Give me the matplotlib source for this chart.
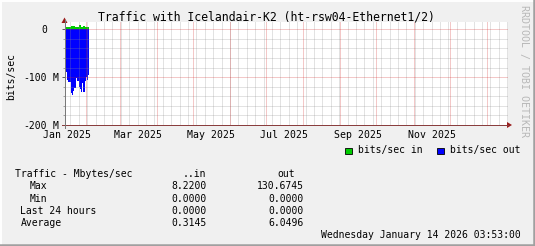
import matplotlib
matplotlib.use("Agg")
import matplotlib.pyplot as plt
import matplotlib.transforms as mtransforms
from matplotlib.patches import Rectangle, Polygon
from matplotlib.lines import Line2D
import numpy as np

W, H = 535, 246
MONO = "DejaVu Sans Mono"

# time axis in days counted from 1 Jan 2025, graph covers one year up to "now"
graph_start = 13.16
first_sample = 13.6
sample_step = 1 / 1.2  # one rrd pixel column

# bits/sec, in Mbit
traffic_in = [4, 4, 4, 4, 4, 4, 7.5, 7.5, 7.5, 7.5, 4.5, 4.5,
              4.5, 4.5, 8, 8, 4.5, 4.5, 7.5, 7.5, 4.5, 4.5, 4.5, 4.5]
traffic_out = [78, 90, 106, 110, 110, 110, 133, 137, 128, 122, 122, 101,
               108, 108, 120, 124, 131, 112, 132, 130, 109, 99, 105, 95]

month_starts = [0, 31, 59, 90, 120, 151, 181, 212, 243, 273, 304, 334, 365]
label_months = [0, 59, 120, 181, 243, 304]
label_texts = ["Jan 2025", "Mar 2025", "May 2025", "Jul 2025", "Sep 2025", "Nov 2025"]
first_sunday = 18

y_major = [0, -100e6, -200e6]

stat_names = ["Max", "Min", "Last 24 hours", "Average"]
stat_in = [8.2200, 0.0, 0.0, 0.3145]
stat_out = [130.6745, 0.0, 0.0, 6.0496]


def fx(px):
    return px / W


def fy(py):
    return 1 - py / H


fig = plt.figure(figsize=(W / 100, H / 100), dpi=100, facecolor="#F0F0F0")
left_px, right_px, top_px, bottom_px = 64.5, 507.5, 22, 125
ax = fig.add_axes([fx(left_px), fy(bottom_px), (right_px - left_px) / W, (bottom_px - top_px) / H])
ax.set_facecolor("white")
ax.set_xlim(graph_start, graph_start + (right_px - left_px) / 1.2)
zero_px = 29.3
px_per_bit = (bottom_px - zero_px) / 200e6
ax.set_ylim(-200e6, (zero_px - top_px) / px_per_bit)
x_end = ax.get_xlim()[1]

# data, rrd style stair areas
edges = first_sample + np.arange(len(traffic_out) + 1) * sample_step
ax.stairs(np.array(traffic_in) * 1e6, edges, baseline=0, fill=True, color="#00CC00", lw=0, zorder=1)
ax.stairs(-np.array(traffic_out) * 1e6, edges, baseline=0, fill=True, color="#0000FF", lw=0, zorder=1)

# grid on top of data
minor_c = (0.55, 0.55, 0.55, 0.5)
major_c = (0.82, 0.15, 0.15, 0.5)
dash = (0, (1, 1))
for d in np.arange(first_sunday, x_end, 7):
    ax.axvline(d, color=minor_c, lw=0.72, ls=dash, zorder=3)
for v in np.arange(-180e6, 1e6, 20e6):
    if v % 100e6 != 0:
        ax.axhline(v, color=minor_c, lw=0.72, ls=dash, zorder=3)
for d in month_starts:
    if graph_start < d < x_end:
        ax.axvline(d, color=major_c, lw=0.72, ls=dash, zorder=4)
for v in y_major:
    ax.axhline(v, color=major_c, lw=0.72, ls=dash, zorder=4)

for s in ax.spines.values():
    s.set_visible(False)

# x labels centred half a month after the month start
ax.set_xticks([d + 15 for d in label_months], label_texts)
ax.tick_params(axis="x", length=0, pad=3.9, labelsize=7.1, labelfontfamily=MONO)
ax.set_yticks(y_major, [])
ax.set_yticks([v for v in np.arange(-180e6, 1e6, 20e6) if v % 100e6 != 0], minor=True)
ax.tick_params(axis="y", which="major", length=2.2, width=0.72, color="#606060", direction="out")
ax.tick_params(axis="y", which="minor", length=1.5, width=0.72, color="#A0A0A0", direction="out")

trans = mtransforms.blended_transform_factory(ax.transAxes, ax.transData)
for v in y_major:
    num = f"{v / 1e6:.0f}"
    ax.text((46.8 - left_px) / (right_px - left_px), v, num, transform=trans,
            ha="right", va="center_baseline", fontsize=7.0, family=MONO, clip_on=False)
    if v != 0:
        ax.text((52.3 - left_px) / (right_px - left_px), v, "M", transform=trans,
                ha="left", va="center_baseline", fontsize=7.0, family=MONO, clip_on=False)

# axis lines with arrows
fig.add_artist(Line2D([fx(61.5), fx(508)], [fy(125), fy(125)], color="#8A3E3E", lw=0.72))
fig.add_artist(Line2D([fx(64.5), fx(64.5)], [fy(128), fy(20)], color="#7A7A7A", lw=0.72))
fig.add_artist(Polygon([(fx(507), fy(122)), (fx(512), fy(125)), (fx(507), fy(128))],
                       closed=True, color="#9A1C1C", lw=0))
fig.add_artist(Polygon([(fx(61.5), fy(23)), (fx(64.5), fy(17.5)), (fx(67.5), fy(23))],
                       closed=True, color="#9A1C1C", lw=0))

# texts
fig.text(fx(266.5), fy(17.3), "Traffic with Icelandair-K2 (ht-rsw04-Ethernet1/2)",
         ha="center", va="center", fontsize=8.3, family=MONO)
fig.text(fx(11.5), fy(77), "bits/sec", rotation=90, ha="center", va="center",
         fontsize=7, family=MONO)
fig.text(fx(524.3), fy(5), "RRDTOOL / TOBI OETIKER", rotation=270, ha="center", va="top",
         fontsize=7.2, family=MONO, color="#B8B8B8")

# legend
fig.add_artist(Rectangle((fx(345), fy(154)), 6.5 / W, 6.5 / H, facecolor="#00CC00",
                         edgecolor="black", lw=0.6))
fig.text(fx(357.7), fy(150.5), "bits/sec in", ha="left", va="center", fontsize=7, family=MONO)
fig.add_artist(Rectangle((fx(437.2), fy(154)), 6.5 / W, 6.5 / H, facecolor="#0000FF",
                         edgecolor="black", lw=0.6))
fig.text(fx(449.6), fy(150.5), "bits/sec out", ha="left", va="center", fontsize=7, family=MONO)

# summary table
fig.text(fx(15.4), fy(174.3), "Traffic - Mbytes/sec", ha="left", va="center", fontsize=7, family=MONO)
fig.text(fx(206.5), fy(174.3), "..in", ha="right", va="center", fontsize=7, family=MONO)
fig.text(fx(295), fy(174.3), "out", ha="right", va="center", fontsize=7, family=MONO)
row_y = [186.3, 198.6, 211.2, 223.5]
name_x = [30, 30, 20.5, 20.5]
for name, vi, vo, ry, nx in zip(stat_names, stat_in, stat_out, row_y, name_x):
    fig.text(fx(nx), fy(ry), name, ha="left", va="center", fontsize=7, family=MONO)
    fig.text(fx(206.5), fy(ry), f"{vi:.4f}", ha="right", va="center", fontsize=7, family=MONO)
    fig.text(fx(303.8), fy(ry), f"{vo:.4f}", ha="right", va="center", fontsize=7, family=MONO)
fig.text(fx(520.5), fy(235.2), "Wednesday January 14 2026 03:53:00", ha="right", va="center",
         fontsize=7, family=MONO)

# 3d frame
fig.add_artist(Line2D([0, 1], [fy(0.7), fy(0.7)], color="white", lw=1.4))
fig.add_artist(Line2D([fx(0.7), fx(0.7)], [0, 1], color="white", lw=1.4))
fig.add_artist(Line2D([0, 1], [fy(244.8), fy(244.8)], color="#A0A0A0", lw=1.8))
fig.add_artist(Line2D([fx(533.8), fx(533.8)], [0, 1], color="#A0A0A0", lw=1.8))

fig.savefig("out.png", dpi=100, facecolor=fig.get_facecolor())
